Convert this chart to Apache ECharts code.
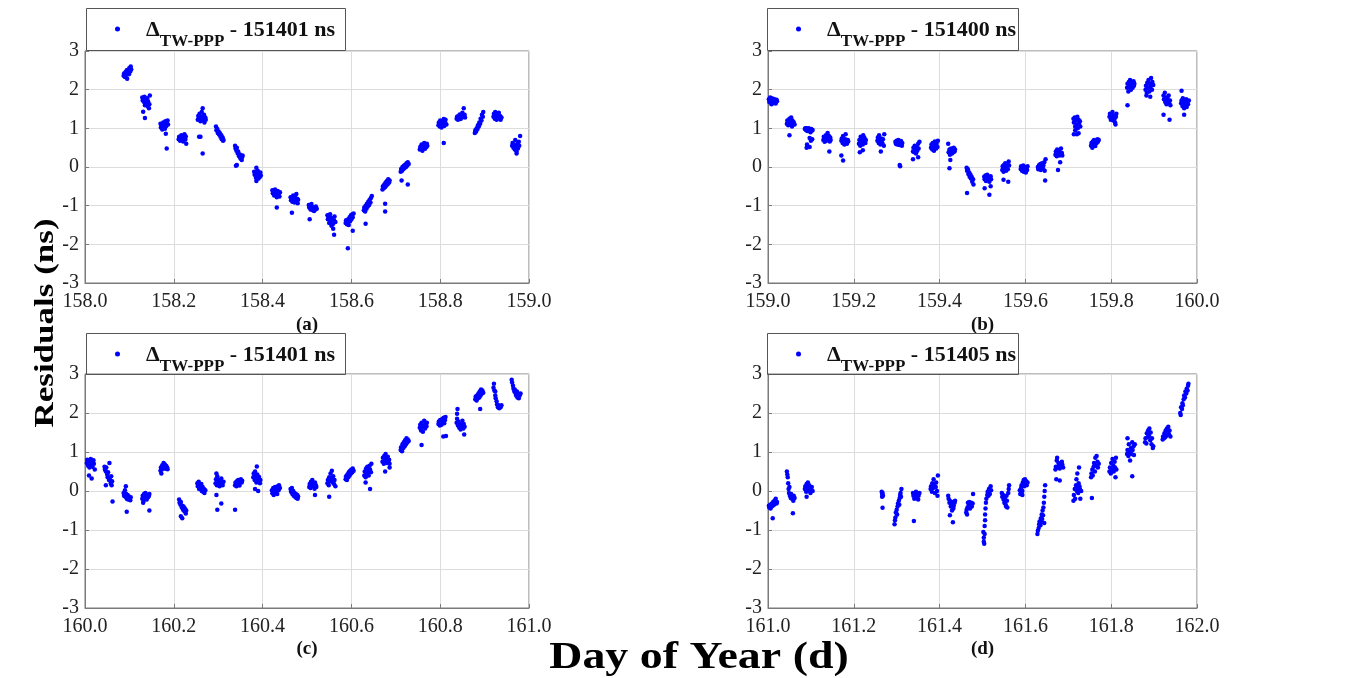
<!DOCTYPE html>
<html><head><meta charset="utf-8">
<script src="https://cdn.jsdelivr.net/npm/echarts@6/dist/echarts.min.js"></script>
<style>html,body{margin:0;padding:0;background:#fff}#c{width:1352px;height:678px}</style>
</head><body><div id="c"></div>
<script>
// ---------- DATA ----------
const panelCaptions = ['(a)', '(b)', '(c)', '(d)'];
const legendOffsets = ['151401', '151400', '151401', '151405'];
const xRanges = [[158.0, 159.0], [159.0, 160.0], [160.0, 161.0], [161.0, 162.0]];
const yRange = [-3, 3];
const xLabelName = 'Day of Year (d)';
const yLabelName = 'Residuals (ns)';

const panelA = [
[158.087,2.36],[158.088,2.42],[158.09,2.33],[158.091,2.45],[158.093,2.38],[158.094,2.5],[158.095,2.28],[158.096,2.43],[158.098,2.52],[158.099,2.4],[158.1,2.56],[158.102,2.47],[158.103,2.6],[158.104,2.53],
[158.129,1.8],[158.13,1.72],[158.131,1.76],[158.133,1.68],[158.134,1.82],[158.135,1.6],[158.137,1.74],[158.138,1.65],[158.14,1.78],[158.141,1.58],[158.142,1.7],[158.144,1.52],[158.145,1.62],[158.146,1.85],[158.131,1.43],[158.135,1.27],
[158.17,1.12],[158.171,1.02],[158.173,1.08],[158.174,0.97],[158.176,1.15],[158.177,1.05],[158.179,1.1],[158.18,0.99],[158.181,1.18],[158.183,1.06],[158.184,1.13],[158.186,1.2],[158.187,1.1],[158.182,0.86],[158.184,0.48],
[158.211,0.72],[158.212,0.78],[158.214,0.68],[158.215,0.75],[158.217,0.82],[158.218,0.7],[158.22,0.77],[158.221,0.66],[158.223,0.74],[158.224,0.85],[158.226,0.71],[158.227,0.79],[158.228,0.6],
[158.254,1.22],[158.255,1.32],[158.257,1.25],[158.258,1.38],[158.26,1.18],[158.261,1.3],[158.263,1.42],[158.264,1.27],[158.265,1.52],[158.266,1.2],[158.268,1.35],[158.269,1.15],[158.271,1.28],[158.272,1.22],[158.257,0.78],[158.26,0.78],[158.265,0.35],
[158.295,1.05],[158.296,0.95],[158.298,0.98],[158.299,0.88],[158.301,0.92],[158.302,0.84],[158.304,0.87],[158.305,0.78],[158.307,0.82],[158.308,0.72],[158.31,0.76],[158.311,0.68],[158.312,0.7],
[158.338,0.55],[158.339,0.48],[158.341,0.42],[158.342,0.5],[158.344,0.35],[158.345,0.4],[158.347,0.28],[158.348,0.33],[158.35,0.22],[158.351,0.3],[158.353,0.18],[158.354,0.26],[158.355,0.3],[158.34,0.03],[158.342,0.05],
[158.381,-0.12],[158.382,-0.2],[158.384,-0.15],[158.385,-0.28],[158.386,-0.02],[158.388,-0.22],[158.389,-0.1],[158.391,-0.3],[158.392,-0.18],[158.394,-0.25],[158.395,-0.14],[158.396,-0.22],[158.386,-0.36],
[158.422,-0.6],[158.423,-0.68],[158.425,-0.64],[158.426,-0.74],[158.428,-0.58],[158.429,-0.7],[158.431,-0.66],[158.432,-0.78],[158.434,-0.62],[158.435,-0.72],[158.437,-0.68],[158.438,-0.76],[158.439,-0.65],[158.432,-1.05],
[158.463,-0.78],[158.464,-0.86],[158.466,-0.8],[158.467,-0.9],[158.469,-0.74],[158.47,-0.84],[158.472,-0.92],[158.473,-0.78],[158.475,-0.88],[158.476,-0.7],[158.478,-0.82],[158.479,-0.94],[158.48,-0.85],[158.466,-1.18],
[158.504,-0.98],[158.505,-1.05],[158.507,-1.02],[158.508,-1.1],[158.51,-0.96],[158.511,-1.08],[158.513,-1.12],[158.514,-1.04],[158.516,-1.14],[158.517,-1.06],[158.519,-1.1],[158.52,-1.02],[158.522,-1.08],[158.506,-1.35],
[158.546,-1.25],[158.547,-1.35],[158.549,-1.3],[158.55,-1.45],[158.552,-1.22],[158.553,-1.4],[158.555,-1.52],[158.556,-1.32],[158.558,-1.48],[158.559,-1.6],[158.561,-1.38],[158.562,-1.28],[158.564,-1.42],[158.561,-1.75],
[158.587,-1.45],[158.588,-1.38],[158.59,-1.48],[158.591,-1.42],[158.593,-1.35],[158.594,-1.5],[158.596,-1.3],[158.597,-1.4],[158.599,-1.25],[158.6,-1.35],[158.602,-1.22],[158.603,-1.3],[158.605,-1.2],[158.592,-2.1],[158.603,-1.65],
[158.628,-1.12],[158.629,-1.05],[158.631,-1.15],[158.632,-1.0],[158.634,-1.08],[158.635,-0.95],[158.637,-1.02],[158.638,-0.9],[158.64,-0.98],[158.641,-0.85],[158.643,-0.92],[158.644,-0.8],[158.646,-0.75],[158.632,-1.47],
[158.67,-0.58],[158.671,-0.5],[158.673,-0.55],[158.674,-0.45],[158.676,-0.52],[158.677,-0.4],[158.679,-0.48],[158.68,-0.36],[158.682,-0.44],[158.683,-0.32],[158.685,-0.4],[158.686,-0.35],[158.676,-0.95],[158.676,-1.15],
[158.711,-0.12],[158.712,-0.05],[158.714,-0.1],[158.715,0.0],[158.717,-0.06],[158.718,0.03],[158.72,-0.02],[158.721,0.06],[158.723,0.0],[158.724,0.1],[158.726,0.04],[158.727,0.12],[158.729,0.08],[158.713,-0.35],[158.727,-0.45],
[158.754,0.45],[158.755,0.52],[158.757,0.48],[158.758,0.58],[158.76,0.42],[158.761,0.55],[158.763,0.5],[158.764,0.62],[158.766,0.47],[158.767,0.57],[158.769,0.52],[158.77,0.6],[158.771,0.55],
[158.796,1.08],[158.797,1.15],[158.799,1.05],[158.8,1.2],[158.802,1.1],[158.803,1.02],[158.805,1.18],[158.806,1.12],[158.808,1.24],[158.809,1.06],[158.811,1.16],[158.812,1.22],[158.814,1.1],[158.808,0.62],
[158.837,1.25],[158.838,1.3],[158.84,1.22],[158.841,1.32],[158.843,1.27],[158.844,1.36],[158.846,1.24],[158.847,1.33],[158.849,1.28],[158.85,1.4],[158.852,1.3],[158.853,1.52],[158.855,1.35],[158.856,1.28],
[158.878,0.88],[158.879,0.95],[158.881,0.92],[158.882,1.0],[158.884,0.98],[158.885,1.08],[158.887,1.05],[158.888,1.15],[158.89,1.12],[158.891,1.25],[158.893,1.2],[158.894,1.35],[158.896,1.3],[158.897,1.42],
[158.92,1.3],[158.921,1.38],[158.923,1.25],[158.924,1.42],[158.926,1.33],[158.927,1.22],[158.929,1.36],[158.93,1.28],[158.932,1.4],[158.933,1.25],[158.935,1.32],[158.936,1.22],[158.938,1.28],
[158.962,0.55],[158.963,0.62],[158.965,0.5],[158.966,0.58],[158.968,0.45],[158.969,0.7],[158.971,0.52],[158.972,0.4],[158.974,0.6],[158.975,0.48],[158.977,0.65],[158.978,0.55],[158.98,0.8],[158.972,0.35]
];

const panelB = [
[159.002,1.75],[159.003,1.68],[159.005,1.8],[159.006,1.72],[159.008,1.62],[159.009,1.78],[159.011,1.7],[159.012,1.65],[159.014,1.76],[159.015,1.68],[159.017,1.72],[159.018,1.64],[159.02,1.74],[159.021,1.7],
[159.044,1.12],[159.045,1.2],[159.047,1.08],[159.048,1.18],[159.05,1.25],[159.051,1.1],[159.053,1.15],[159.054,1.28],[159.056,1.05],[159.057,1.2],[159.059,1.12],[159.06,1.16],[159.062,1.1],[159.05,0.82],
[159.086,0.98],[159.087,1.0],[159.089,0.95],[159.09,1.0],[159.092,0.93],[159.093,0.98],[159.095,1.0],[159.096,0.95],[159.098,0.97],[159.099,0.9],[159.101,0.98],[159.102,0.94],[159.104,0.96],[159.09,0.5],[159.091,0.58],[159.097,0.52],[159.097,0.75],[159.1,0.68],[159.103,0.72],
[159.129,0.7],[159.13,0.78],[159.132,0.65],[159.133,0.75],[159.135,0.82],[159.136,0.68],[159.138,0.74],[159.139,0.88],[159.141,0.72],[159.142,0.8],[159.144,0.66],[159.145,0.76],[159.146,0.7],[159.143,0.4],
[159.171,0.68],[159.172,0.74],[159.174,0.62],[159.175,0.8],[159.177,0.7],[159.178,0.58],[159.18,0.72],[159.181,0.85],[159.183,0.65],[159.184,0.6],[159.186,0.7],[159.187,0.66],[159.171,0.3],[159.175,0.17],
[159.212,0.6],[159.213,0.7],[159.215,0.55],[159.216,0.78],[159.218,0.65],[159.219,0.72],[159.221,0.58],[159.222,0.82],[159.224,0.68],[159.225,0.75],[159.227,0.62],[159.228,0.7],[159.214,0.38],[159.221,0.43],
[159.255,0.68],[159.256,0.76],[159.258,0.62],[159.259,0.82],[159.261,0.7],[159.262,0.58],[159.264,0.74],[159.265,0.66],[159.267,0.6],[159.268,0.72],[159.27,0.55],[159.271,0.85],[159.263,0.4],
[159.297,0.65],[159.298,0.6],[159.3,0.68],[159.301,0.58],[159.303,0.63],[159.304,0.7],[159.306,0.57],[159.307,0.64],[159.309,0.6],[159.31,0.67],[159.312,0.55],[159.313,0.62],[159.307,0.05],[159.308,0.02],
[159.338,0.4],[159.339,0.5],[159.341,0.38],[159.342,0.55],[159.344,0.45],[159.345,0.35],[159.347,0.52],[159.348,0.42],[159.35,0.6],[159.351,0.48],[159.353,0.65],[159.338,0.2],[159.35,0.25],
[159.38,0.5],[159.381,0.58],[159.383,0.45],[159.384,0.62],[159.386,0.52],[159.387,0.42],[159.389,0.66],[159.39,0.55],[159.392,0.48],[159.393,0.6],[159.395,0.52],[159.396,0.68],
[159.421,0.38],[159.423,0.45],[159.424,0.32],[159.426,0.42],[159.427,0.48],[159.429,0.35],[159.43,0.44],[159.432,0.38],[159.433,0.5],[159.435,0.4],[159.436,0.45],[159.42,0.6],[159.425,0.18],[159.423,-0.03],
[159.463,-0.02],[159.464,-0.1],[159.466,-0.06],[159.467,-0.18],[159.469,-0.14],[159.47,-0.25],[159.472,-0.2],[159.473,-0.3],[159.475,-0.26],[159.476,-0.38],[159.478,-0.32],[159.479,-0.45],[159.464,-0.67],
[159.504,-0.25],[159.505,-0.32],[159.507,-0.22],[159.508,-0.36],[159.51,-0.28],[159.511,-0.2],[159.513,-0.34],[159.514,-0.26],[159.516,-0.38],[159.517,-0.3],[159.519,-0.24],[159.52,-0.32],[159.505,-0.55],[159.516,-0.72],[159.519,-0.5],
[159.546,-0.08],[159.547,0.02],[159.549,-0.12],[159.55,0.05],[159.552,-0.04],[159.553,0.1],[159.555,-0.1],[159.556,0.0],[159.558,0.08],[159.559,-0.06],[159.561,0.14],[159.562,0.04],[159.549,-0.33],[159.56,-0.38],
[159.589,-0.05],[159.59,0.02],[159.592,-0.1],[159.593,-0.03],[159.595,0.04],[159.596,-0.12],[159.598,-0.06],[159.599,0.0],[159.601,-0.14],[159.602,-0.04],[159.604,-0.08],[159.605,0.02],
[159.629,0.0],[159.63,-0.06],[159.632,0.05],[159.633,-0.02],[159.635,0.08],[159.636,-0.08],[159.638,0.02],[159.639,0.1],[159.641,-0.04],[159.642,0.04],[159.644,0.12],[159.645,-0.1],[159.647,0.2],[159.646,-0.35],
[159.67,0.32],[159.671,0.4],[159.673,0.28],[159.674,0.45],[159.676,0.35],[159.677,0.42],[159.679,0.3],[159.68,0.38],[159.682,0.33],[159.683,0.48],[159.685,0.36],[159.686,0.3],[159.681,0.12],[159.676,-0.08],
[159.712,1.25],[159.713,1.15],[159.715,1.28],[159.716,1.05],[159.718,1.2],[159.719,1.1],[159.721,1.3],[159.722,1.0],[159.724,1.22],[159.725,1.12],[159.727,1.18],[159.728,1.05],[159.713,0.85],[159.716,0.95],[159.72,0.85],[159.724,0.87],
[159.753,0.55],[159.754,0.62],[159.756,0.5],[159.757,0.66],[159.759,0.58],[159.76,0.7],[159.762,0.6],[159.763,0.54],[159.765,0.68],[159.766,0.62],[159.768,0.72],[159.769,0.65],[159.771,0.7],
[159.796,1.3],[159.797,1.38],[159.799,1.22],[159.8,1.35],[159.802,1.28],[159.803,1.42],[159.805,1.2],[159.806,1.32],[159.808,1.25],[159.809,1.15],[159.811,1.3],[159.812,1.38],[159.81,1.1],
[159.837,2.05],[159.838,2.15],[159.84,1.95],[159.841,2.2],[159.843,2.08],[159.844,2.25],[159.846,2.0],[159.847,2.12],[159.849,2.18],[159.85,2.05],[159.852,2.22],[159.853,2.1],[159.854,2.15],[159.838,1.6],
[159.88,2.0],[159.881,2.1],[159.883,1.92],[159.884,2.18],[159.886,2.05],[159.887,2.25],[159.889,1.95],[159.89,2.15],[159.892,2.08],[159.893,2.3],[159.895,2.0],[159.896,2.2],[159.898,2.12],[159.882,1.85],[159.891,1.82],
[159.922,1.85],[159.923,1.75],[159.925,1.92],[159.926,1.68],[159.928,1.8],[159.929,1.62],[159.931,1.78],[159.932,1.7],[159.934,1.85],[159.935,1.65],[159.937,1.72],[159.938,1.6],[159.922,1.35],[159.936,1.22],
[159.963,1.65],[159.964,1.72],[159.966,1.58],[159.967,1.78],[159.969,1.62],[159.97,1.52],[159.972,1.7],[159.973,1.6],[159.975,1.75],[159.976,1.55],[159.978,1.68],[159.979,1.62],[159.981,1.72],[159.964,1.97],[159.97,1.35]
];

const panelC = [
[160.004,0.72],[160.005,0.8],[160.007,0.65],[160.008,0.78],[160.01,0.6],[160.011,0.75],[160.013,0.82],[160.014,0.68],[160.016,0.74],[160.017,0.62],[160.019,0.79],[160.02,0.7],[160.022,0.55],[160.009,0.4],[160.015,0.32],
[160.044,0.62],[160.045,0.55],[160.047,0.5],[160.048,0.6],[160.05,0.42],[160.051,0.35],[160.052,0.48],[160.054,0.28],[160.055,0.72],[160.056,0.3],[160.058,0.2],[160.059,0.38],[160.06,0.15],[160.061,0.25],[160.047,0.15],[160.062,-0.27],
[160.087,-0.05],[160.088,-0.12],[160.09,0.02],[160.091,-0.15],[160.093,-0.08],[160.094,-0.2],[160.096,-0.1],[160.097,-0.22],[160.099,-0.14],[160.1,-0.18],[160.102,-0.24],[160.103,-0.16],[160.092,0.12],[160.094,-0.53],
[160.129,-0.2],[160.13,-0.12],[160.132,-0.25],[160.133,-0.08],[160.135,-0.18],[160.136,-0.05],[160.138,-0.14],[160.139,-0.22],[160.141,-0.1],[160.142,-0.16],[160.144,-0.12],[160.145,-0.08],[160.131,-0.3],[160.145,-0.5],
[160.17,0.52],[160.171,0.6],[160.173,0.55],[160.174,0.66],[160.176,0.58],[160.177,0.72],[160.179,0.62],[160.18,0.68],[160.182,0.57],[160.183,0.64],[160.185,0.6],[160.186,0.56],[160.172,0.45],
[160.212,-0.22],[160.213,-0.3],[160.215,-0.35],[160.216,-0.28],[160.218,-0.42],[160.219,-0.38],[160.221,-0.48],[160.222,-0.4],[160.224,-0.52],[160.225,-0.45],[160.227,-0.58],[160.228,-0.5],[160.216,-0.65],[160.219,-0.7],
[160.253,0.2],[160.254,0.12],[160.256,0.24],[160.257,0.05],[160.259,0.15],[160.26,0.08],[160.262,0.18],[160.263,0.0],[160.265,0.1],[160.266,-0.02],[160.268,0.05],[160.269,-0.05],[160.271,0.02],
[160.294,0.2],[160.295,0.3],[160.297,0.15],[160.298,0.38],[160.3,0.22],[160.301,0.28],[160.303,0.12],[160.304,0.25],[160.306,0.18],[160.307,0.32],[160.309,0.2],[160.31,0.15],[160.312,0.24],[160.296,0.45],[160.296,-0.1],[160.298,-0.48],[160.307,-0.32],
[160.338,0.15],[160.339,0.22],[160.341,0.12],[160.342,0.25],[160.344,0.18],[160.345,0.28],[160.347,0.2],[160.348,0.14],[160.35,0.24],[160.351,0.3],[160.353,0.22],[160.354,0.26],[160.338,-0.48],
[160.379,0.35],[160.38,0.45],[160.382,0.28],[160.383,0.5],[160.385,0.38],[160.386,0.22],[160.388,0.42],[160.389,0.3],[160.391,0.25],[160.392,0.36],[160.394,0.2],[160.395,0.28],[160.387,0.63],[160.383,0.05],[160.39,0.0],
[160.421,0.02],[160.422,-0.06],[160.424,0.08],[160.425,-0.1],[160.427,0.0],[160.428,0.1],[160.43,-0.04],[160.431,0.05],[160.433,-0.08],[160.434,0.12],[160.436,0.02],[160.437,0.15],[160.439,0.08],
[160.463,0.05],[160.464,-0.02],[160.466,0.08],[160.467,-0.08],[160.469,0.0],[160.47,-0.12],[160.472,-0.05],[160.473,-0.15],[160.475,-0.08],[160.476,-0.18],[160.478,-0.1],[160.479,-0.2],[160.48,-0.14],
[160.505,0.1],[160.506,0.18],[160.508,0.08],[160.509,0.24],[160.511,0.14],[160.512,0.28],[160.514,0.12],[160.515,0.2],[160.517,0.06],[160.518,0.22],[160.52,0.15],[160.521,0.1],[160.518,-0.1],
[160.546,0.2],[160.547,0.28],[160.549,0.15],[160.55,0.35],[160.552,0.25],[160.553,0.45],[160.555,0.3],[160.556,0.52],[160.558,0.22],[160.559,0.38],[160.561,0.18],[160.562,0.28],[160.564,0.12],[160.55,-0.15],
[160.587,0.3],[160.588,0.38],[160.59,0.28],[160.591,0.42],[160.593,0.35],[160.594,0.48],[160.596,0.4],[160.597,0.52],[160.599,0.45],[160.6,0.55],[160.602,0.48],[160.603,0.58],[160.605,0.52],
[160.629,0.4],[160.63,0.5],[160.632,0.35],[160.633,0.58],[160.635,0.45],[160.636,0.62],[160.638,0.52],[160.639,0.4],[160.641,0.65],[160.642,0.55],[160.644,0.48],[160.645,0.7],[160.632,0.22],[160.642,0.05],
[160.67,0.75],[160.671,0.85],[160.673,0.7],[160.674,0.9],[160.676,0.78],[160.677,0.95],[160.679,0.82],[160.68,0.72],[160.682,0.88],[160.683,0.76],[160.685,0.8],[160.686,0.7],[160.676,0.5],[160.686,0.6],
[160.711,1.05],[160.712,1.12],[160.714,1.02],[160.715,1.2],[160.717,1.1],[160.718,1.25],[160.72,1.15],[160.721,1.3],[160.723,1.2],[160.724,1.35],[160.726,1.25],[160.727,1.32],[160.729,1.28],
[160.754,1.62],[160.755,1.7],[160.757,1.55],[160.758,1.75],[160.76,1.65],[160.761,1.52],[160.763,1.68],[160.764,1.8],[160.766,1.6],[160.767,1.72],[160.769,1.66],[160.77,1.75],[160.758,1.18],
[160.796,1.72],[160.797,1.78],[160.799,1.68],[160.8,1.82],[160.802,1.75],[160.803,1.7],[160.805,1.85],[160.806,1.78],[160.808,1.88],[160.809,1.74],[160.811,1.82],[160.812,1.9],[160.807,1.4],[160.813,1.41],
[160.837,1.75],[160.838,1.85],[160.84,1.68],[160.841,1.78],[160.843,1.62],[160.844,1.72],[160.846,1.58],[160.847,1.7],[160.849,1.65],[160.85,1.8],[160.852,1.6],[160.853,1.72],[160.855,1.65],[160.839,2.1],[160.838,1.98],[160.854,1.45],
[160.879,2.35],[160.88,2.42],[160.882,2.32],[160.883,2.45],[160.885,2.38],[160.886,2.5],[160.888,2.4],[160.889,2.55],[160.891,2.45],[160.892,2.6],[160.894,2.5],[160.895,2.58],[160.897,2.52],[160.89,2.1],
[160.92,2.65],[160.921,2.75],[160.922,2.58],[160.924,2.45],[160.925,2.38],[160.927,2.3],[160.928,2.22],[160.93,2.15],[160.931,2.2],[160.933,2.12],[160.934,2.18],[160.936,2.15],[160.938,2.2],[160.924,2.55],
[160.961,2.85],[160.962,2.78],[160.964,2.7],[160.965,2.62],[160.967,2.55],[160.968,2.6],[160.97,2.5],[160.971,2.45],[160.973,2.55],[160.974,2.4],[160.976,2.48],[160.977,2.38],[160.979,2.45],[160.981,2.5]
];

const panelD = [
[161.002,-0.38],[161.003,-0.42],[161.005,-0.35],[161.006,-0.45],[161.008,-0.4],[161.009,-0.32],[161.011,-0.38],[161.012,-0.28],[161.014,-0.35],[161.015,-0.25],[161.017,-0.3],[161.018,-0.2],[161.02,-0.32],[161.021,-0.28],[161.011,-0.7],
[161.044,0.5],[161.045,0.42],[161.046,0.35],[161.047,0.2],[161.048,0.05],[161.049,-0.05],[161.05,0.1],[161.051,-0.12],[161.053,-0.18],[161.054,-0.08],[161.056,-0.2],[161.057,-0.15],[161.059,-0.25],[161.06,-0.12],[161.062,-0.18],[161.058,-0.57],
[161.086,0.05],[161.087,0.12],[161.089,-0.02],[161.09,0.18],[161.092,0.08],[161.093,0.22],[161.095,0.0],[161.096,0.15],[161.098,0.05],[161.099,-0.05],[161.101,0.02],[161.102,0.1],[161.104,0.0],[161.09,-0.15],
[161.265,-0.02],[161.266,-0.08],[161.266,-0.15],[161.267,-0.05],[161.268,-0.12],[161.267,-0.43],
[161.295,-0.85],[161.296,-0.75],[161.297,-0.68],[161.298,-0.55],[161.3,-0.48],[161.301,-0.6],[161.302,-0.4],[161.303,-0.32],[161.305,-0.25],[161.306,-0.35],[161.307,-0.18],[161.308,-0.1],[161.31,-0.15],[161.311,0.05],[161.309,-0.05],
[161.338,-0.05],[161.339,-0.12],[161.341,-0.2],[161.342,-0.08],[161.344,-0.15],[161.345,-0.02],[161.347,-0.18],[161.348,-0.1],[161.35,-0.22],[161.351,-0.12],[161.353,-0.05],[161.34,-0.77],
[161.379,0.05],[161.38,0.12],[161.382,-0.02],[161.383,0.2],[161.385,0.08],[161.386,0.3],[161.388,0.15],[161.389,-0.05],[161.391,0.1],[161.392,0.22],[161.394,0.0],[161.395,-0.12],[161.396,0.4],
[161.42,-0.12],[161.421,-0.2],[161.423,-0.3],[161.424,-0.25],[161.426,-0.4],[161.427,-0.35],[161.429,-0.5],[161.43,-0.28],[161.432,-0.45],[161.433,-0.38],[161.435,-0.3],[161.436,-0.25],[161.424,-0.62],[161.431,-0.8],
[161.462,-0.55],[161.463,-0.48],[161.465,-0.42],[161.466,-0.3],[161.468,-0.38],[161.469,-0.28],[161.471,-0.45],[161.472,-0.35],[161.474,-0.3],[161.475,-0.4],[161.477,-0.32],[161.478,-0.08],[161.464,-0.6],
[161.502,-1.05],[161.503,-1.2],[161.503,-1.3],[161.504,-1.35],[161.505,-1.1],[161.505,-0.9],[161.506,-0.75],[161.506,-0.6],[161.507,-0.45],[161.508,-0.3],[161.509,-0.2],[161.511,-0.1],[161.512,-0.02],[161.514,-0.12],[161.515,0.05],[161.517,-0.08],[161.519,0.12],[161.52,0.02],
[161.545,-0.05],[161.546,-0.15],[161.548,-0.1],[161.549,-0.22],[161.551,-0.3],[161.552,-0.18],[161.554,-0.35],[161.555,-0.4],[161.557,-0.25],[161.558,-0.42],[161.56,-0.05],[161.561,0.05],[161.562,0.15],[161.556,-0.12],
[161.587,0.02],[161.588,-0.08],[161.59,0.08],[161.591,0.15],[161.593,0.0],[161.594,0.22],[161.596,0.28],[161.597,0.12],[161.599,0.3],[161.6,0.2],[161.602,0.25],[161.603,0.15],[161.605,0.22],[161.593,-0.1],
[161.628,-1.1],[161.629,-1.02],[161.631,-0.95],[161.632,-0.85],[161.633,-0.78],[161.635,-0.88],[161.636,-0.7],[161.637,-0.8],[161.638,-0.6],[161.639,-0.72],[161.64,-0.5],[161.641,-0.62],[161.642,-0.42],[161.643,-0.3],[161.644,-0.15],[161.645,0.0],[161.646,0.15],[161.644,-0.82],
[161.67,0.55],[161.671,0.62],[161.673,0.78],[161.674,0.85],[161.676,0.6],[161.677,0.72],[161.679,0.65],[161.68,0.58],[161.682,0.7],[161.683,0.62],[161.685,0.75],[161.686,0.68],[161.688,0.6],[161.672,0.3],[161.68,0.27],
[161.712,-0.25],[161.713,-0.1],[161.715,0.05],[161.716,-0.2],[161.718,0.15],[161.719,0.3],[161.72,0.0],[161.721,0.45],[161.722,0.1],[161.723,-0.05],[161.724,0.2],[161.725,0.6],[161.727,0.05],[161.728,-0.2],[161.73,0.0],[161.726,0.12],
[161.753,0.35],[161.754,0.45],[161.756,0.55],[161.757,0.4],[161.759,0.62],[161.76,0.72],[161.762,0.5],[161.763,0.85],[161.765,0.65],[161.766,0.9],[161.768,0.75],[161.769,0.6],[161.771,0.7],[161.755,-0.18],
[161.796,0.5],[161.797,0.6],[161.799,0.45],[161.8,0.72],[161.802,0.55],[161.803,0.82],[161.805,0.65],[161.806,0.5],[161.808,0.75],[161.809,0.6],[161.811,0.85],[161.812,0.55],[161.81,0.35],
[161.837,0.95],[161.838,1.05],[161.84,0.9],[161.841,1.2],[161.843,1.0],[161.844,0.78],[161.846,1.1],[161.847,0.95],[161.849,1.25],[161.85,1.05],[161.852,1.15],[161.853,0.92],[161.855,1.2],[161.838,1.35],[161.849,0.38],
[161.879,1.25],[161.88,1.35],[161.882,1.22],[161.883,1.48],[161.885,1.38],[161.886,1.55],[161.888,1.42],[161.889,1.6],[161.891,1.3],[161.892,1.5],[161.894,1.2],[161.895,1.35],[161.897,1.1],[161.898,1.15],
[161.92,1.32],[161.921,1.4],[161.923,1.35],[161.924,1.48],[161.926,1.38],[161.927,1.55],[161.929,1.42],[161.93,1.6],[161.932,1.5],[161.933,1.65],[161.935,1.45],[161.936,1.55],[161.938,1.4],
[161.961,2.0],[161.962,1.95],[161.963,2.15],[161.965,2.1],[161.966,2.25],[161.967,2.2],[161.969,2.35],[161.97,2.45],[161.972,2.4],[161.973,2.55],[161.975,2.5],[161.976,2.62],[161.978,2.58],[161.979,2.7],[161.98,2.75]
];

const panels = [panelA, panelB, panelC, panelD];

// ---------- LAYOUT / STYLE ----------
const FONT = 'Liberation Serif';
const grids = [
  {left: 85, top: 51, width: 444, height: 232},
  {left: 768, top: 51, width: 429, height: 232},
  {left: 85, top: 374, width: 444, height: 234},
  {left: 768, top: 374, width: 429, height: 234}
];
const legendBoxes = [
  {x: 86, y: 8, w: 259, h: 42},
  {x: 767, y: 8, w: 251, h: 42},
  {x: 86, y: 333, w: 259, h: 41},
  {x: 767, y: 333, w: 251, h: 41}
];
const captionGap = [33, 33, 32, 32];
const seriesNames = panels.map((p, i) => 'TW-PPP ' + panelCaptions[i]);

const option = {
  backgroundColor: '#ffffff',
  animation: false,
  grid: grids.map(g => Object.assign({show: true, borderColor: '#7a7a7a', borderWidth: 1, backgroundColor: 'transparent'}, g)),
  xAxis: grids.map((g, i) => ({
    type: 'value', gridIndex: i, min: xRanges[i][0], max: xRanges[i][1], interval: 0.2,
    name: panelCaptions[i], nameLocation: 'middle', nameGap: captionGap[i],
    nameTextStyle: {fontFamily: FONT, fontWeight: 'bold', fontSize: 19, color: '#111'},
    axisLine: {show: true, onZero: false, lineStyle: {color: '#7a7a7a', width: 1}},
    axisTick: {show: true, inside: true, length: 4, lineStyle: {color: '#7a7a7a'}},
    axisLabel: {fontFamily: FONT, fontSize: 20, color: '#222', margin: 9, formatter: v => v.toFixed(1)},
    splitLine: {show: true, lineStyle: {color: '#dcdcdc', width: 1}}
  })),
  yAxis: grids.map((g, i) => ({
    type: 'value', gridIndex: i, min: yRange[0], max: yRange[1], interval: 1,
    axisLine: {show: true, onZero: false, lineStyle: {color: '#7a7a7a', width: 1}},
    axisTick: {show: true, inside: true, length: 4, lineStyle: {color: '#7a7a7a'}},
    axisLabel: {fontFamily: FONT, fontSize: 20, color: '#222', margin: 6},
    splitLine: {show: true, lineStyle: {color: '#dcdcdc', width: 1}}
  })),
  legend: grids.map((g, i) => ({
    data: [seriesNames[i]],
    left: legendBoxes[i].x + 29, top: legendBoxes[i].y + 8,
    padding: 0, itemWidth: 5, itemHeight: 5, icon: 'circle',
    selectedMode: false,
    formatter: () => '{d|\u0394}{s|TW-PPP}{n| - ' + legendOffsets[i] + ' ns}',
    textStyle: {
      fontFamily: FONT, fontWeight: 'bold', color: '#111',
      rich: {
        d: {fontFamily: FONT, fontWeight: 'bold', fontSize: 22, color: '#111', padding: [3, 0, 0, 21], verticalAlign: 'top', lineHeight: 26},
        s: {fontFamily: FONT, fontWeight: 'bold', fontSize: 17, color: '#111', padding: [17, 0, 0, 0], verticalAlign: 'top', lineHeight: 20},
        n: {fontFamily: FONT, fontWeight: 'bold', fontSize: 22, color: '#111', padding: [3, 0, 0, 0], verticalAlign: 'top', lineHeight: 26}
      }
    }
  })),
  graphic: legendBoxes.map(b => ({
    type: 'rect', silent: true, z: 100,
    shape: {x: b.x + 0.5, y: b.y + 0.5, width: b.w, height: b.h},
    style: {fill: 'none', stroke: '#555', lineWidth: 1}
  })).concat([
    {type: 'text', x: 46, y: 323, rotation: Math.PI / 2, scaleX: 1.25, z: 100,
     style: {text: yLabelName, fontFamily: FONT, fontWeight: 'bold', fontSize: 28, fill: '#000', textAlign: 'center', textVerticalAlign: 'middle'}},
    {type: 'text', x: 699, y: 658, scaleX: 1.24, z: 100,
     style: {text: xLabelName, fontFamily: FONT, fontWeight: 'bold', fontSize: 37, fill: '#000', textAlign: 'center', textVerticalAlign: 'middle'}}
  ]),
  series: panels.map((p, i) => ({
    type: 'scatter', name: seriesNames[i], xAxisIndex: i, yAxisIndex: i,
    data: p, symbol: 'circle', symbolSize: 4.5,
    itemStyle: {color: '#0000ff', opacity: 1}, emphasis: {disabled: true}
  }))
};

const chart = echarts.init(document.getElementById('c'), null, {renderer: 'canvas'});
chart.setOption(option);
</script>
</body></html>
